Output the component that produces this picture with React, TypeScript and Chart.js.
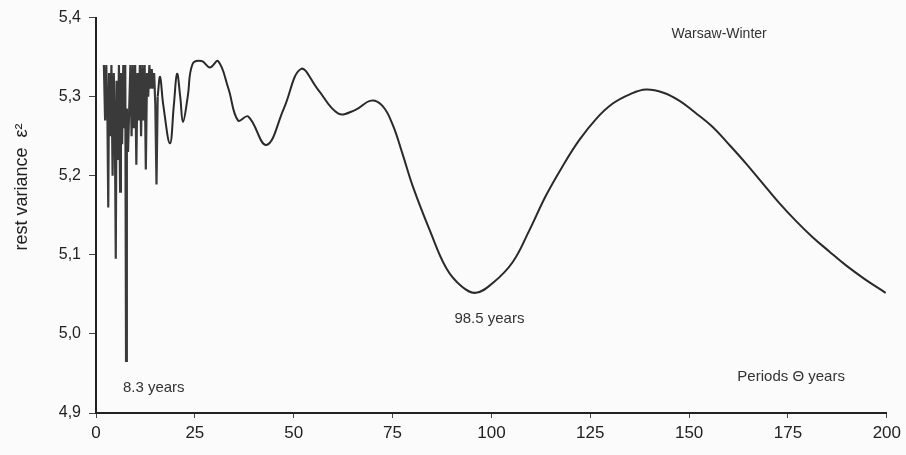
import React, { useEffect, useRef } from "react";
import { Chart, registerables } from "chart.js";

Chart.register(...registerables);

// Dense short-period part (periods in years, rest variance)
const densePeriods = [
  2.0, 2.3, 2.6, 2.9, 3.1, 3.3, 3.6, 3.9, 4.2, 4.5, 4.8, 5.0, 5.2, 5.5, 5.8, 6.1,
  6.3, 6.6, 6.9, 7.2, 7.4, 7.6, 7.8, 8.1, 8.4, 8.7, 9.0, 9.3, 9.6, 9.9, 10.2, 10.5,
  10.8, 11.1, 11.4, 11.7, 12.0, 12.3, 12.6, 12.9, 13.2, 13.5, 13.8, 14.1, 14.4, 14.7,
  15.0, 15.3, 15.6,
];
const denseVariance = [
  5.34, 5.27, 5.34, 5.27, 5.16, 5.33, 5.25, 5.34, 5.2, 5.33, 5.24, 5.095, 5.32, 5.22, 5.34, 5.18,
  5.33, 5.24, 5.34, 5.26, 5.34, 4.966, 5.285, 5.23, 5.285, 5.34, 5.25, 5.34, 5.26, 5.34, 5.214, 5.33,
  5.27, 5.34, 5.25, 5.34, 5.27, 5.34, 5.208, 5.33, 5.3, 5.34, 5.31, 5.335, 5.31, 5.33,
  5.29, 5.189, 5.3,
];

// Smooth long-period part
const smoothPeriods = [
  15.6, 16.2, 17.0, 18.7, 19.7, 20.5, 21.3, 22.0, 23.2, 24.4, 26.7, 28.8, 30.9, 33.5,
  35.9, 38.5, 43.1, 47.5, 51.8, 56.0, 61.2, 65.5, 69.6, 72.5, 75.0, 77.5, 80.1, 84.5, 88.6,
  92.5, 96.1, 100.5, 105.4, 109.5, 113.8, 118.0, 122.2, 126.5, 130.6, 135.0, 139.1,
  143.5, 147.5, 151.5, 155.9, 160.0, 164.3, 168.5, 172.7, 177.0, 181.1, 185.5, 189.6,
  194.5, 199.7,
];
const smoothVariance = [
  5.3, 5.325, 5.29, 5.241, 5.29, 5.329, 5.3, 5.268, 5.3, 5.341, 5.345, 5.337, 5.345, 5.31,
  5.27, 5.275, 5.239, 5.285, 5.335, 5.31, 5.279, 5.283, 5.295, 5.288, 5.265, 5.228, 5.187, 5.13, 5.083,
  5.06, 5.052, 5.065, 5.091, 5.13, 5.175, 5.212, 5.245, 5.272, 5.291, 5.303, 5.309,
  5.305, 5.295, 5.28, 5.262, 5.24, 5.216, 5.191, 5.166, 5.143, 5.123, 5.104, 5.087,
  5.069, 5.052,
];

const xTicks = [0, 25, 50, 75, 100, 125, 150, 175, 200];
const yTicks = [4.9, 5.0, 5.1, 5.2, 5.3, 5.4];

const yTitle = "rest variance  \u03b5\u00b2";
const noteTexts = ["Warsaw-Winter", "98.5 years", "8.3 years", "Periods \u0398 years"];
const noteX = [157.6, 99.5, 14.6, 175.8];
const noteY = [5.379, 5.019, 4.932, 4.946];

const FONT = "'Liberation Sans', Arial, sans-serif";

export default function App() {
  const ref = useRef<HTMLCanvasElement | null>(null);

  useEffect(() => {
    if (!ref.current) return;
    const dense = densePeriods.map((x, i) => ({ x, y: denseVariance[i] }));
    const smooth = smoothPeriods.map((x, i) => ({ x, y: smoothVariance[i] }));

    const bgPlugin = {
      id: "bg",
      beforeDraw(chart: any) {
        const ctx = chart.ctx;
        ctx.save();
        ctx.fillStyle = "#fbfbfb";
        ctx.fillRect(0, 0, chart.width, chart.height);
        ctx.restore();
      },
    };
    const notesPlugin = {
      id: "notes",
      afterDraw(chart: any) {
        const ctx = chart.ctx;
        const xs = chart.scales.x;
        const ys = chart.scales.y;
        ctx.save();
        ctx.fillStyle = "#333";
        ctx.textAlign = "center";
        ctx.textBaseline = "middle";
        noteTexts.forEach((t, i) => {
          ctx.font = (i === 0 ? "14px " : "15px ") + FONT;
          ctx.fillText(t, xs.getPixelForValue(noteX[i]), ys.getPixelForValue(noteY[i]));
        });
        // y-axis title (rotated), positioned like the reference
        ctx.translate(22, 187);
        ctx.rotate(-Math.PI / 2);
        ctx.font = "18px " + FONT;
        ctx.fillStyle = "#222";
        ctx.fillText(yTitle, 0, 0);
        ctx.restore();
      },
    };

    const chart = new Chart(ref.current, {
      type: "line",
      data: {
        datasets: [
          {
            data: dense,
            borderColor: "#3a3a3a",
            borderWidth: 2.2,
            pointRadius: 0,
            tension: 0,
          },
          {
            data: smooth,
            borderColor: "#2a2a2a",
            borderWidth: 2,
            pointRadius: 0,
            tension: 0.4,
          },
        ],
      },
      options: {
        animation: false,
        responsive: false,
        layout: { padding: { top: 13, right: 16, left: 0, bottom: 0 } },
        plugins: { legend: { display: false }, tooltip: { enabled: false } },
        scales: {
          x: {
            type: "linear",
            min: 0,
            max: 200,
            afterBuildTicks: (s: any) => {
              s.ticks = xTicks.map((v) => ({ value: v }));
            },
            afterFit: (s: any) => {
              s.height = 42;
            },
            border: { color: "#222", width: 2 },
            grid: { drawOnChartArea: false, drawTicks: true, tickLength: 5, color: "#444" },
            ticks: {
              color: "#222",
              font: { size: 17, family: FONT },
              padding: 5,
              maxRotation: 0,
              callback: (v: any) => String(v),
            },
          },
          y: {
            type: "linear",
            min: 4.9,
            max: 5.4,
            afterBuildTicks: (s: any) => {
              s.ticks = yTicks.map((v) => ({ value: v }));
            },
            afterFit: (s: any) => {
              s.width = 96;
            },
            border: { color: "#222", width: 2 },
            grid: { drawOnChartArea: false, drawTicks: true, tickLength: 7, color: "#444" },
            ticks: {
              color: "#222",
              font: { size: 16, family: FONT },
              padding: 8,
              callback: (v: any) => Number(v).toFixed(1).replace(".", ","),
            },
          },
        },
      },
      plugins: [bgPlugin, notesPlugin],
    });
    return () => chart.destroy();
  }, []);

  return (
    <div style={{ position: "absolute", left: 0, top: 0, width: 906, height: 455 }}>
      <canvas ref={ref} width={906} height={455} style={{ width: 906, height: 455 }} />
    </div>
  );
}
